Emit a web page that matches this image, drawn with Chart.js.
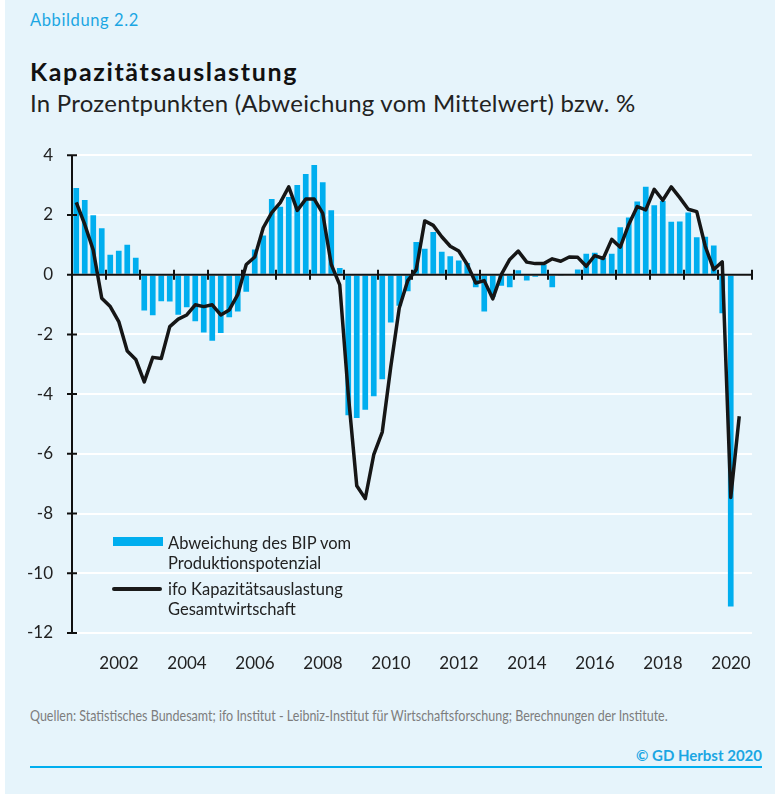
<!DOCTYPE html>
<html lang="de">
<head>
<meta charset="utf-8">
<title>Kapazitätsauslastung</title>
<script src="https://cdn.jsdelivr.net/npm/chart.js@4.4.1/dist/chart.umd.min.js"></script>
<style>
  html, body { margin: 0; padding: 0; background: #ffffff; }
  body { width: 775px; height: 794px; position: relative; overflow: hidden; font-family: "Lato", "DejaVu Sans", sans-serif; }
  #panel { position: absolute; left: 5px; top: 0; width: 770px; height: 794px; background: #e6f4fb; }
  .txt { position: absolute; white-space: nowrap; }
  #fig { left: 30px; top: 10px; font-size: 16.5px; color: #1ba6e3; }
  #title { left: 30px; top: 56px; font-size: 25px; font-weight: 700; color: #111; }
  #subtitle { left: 30px; top: 88px; font-size: 24px; color: #222; }
  #chartBox { position: absolute; left: 0; top: 126px; width: 775px; height: 554px; }
  .legText { font-size: 16.5px; color: #222; line-height: 20px; }
  #legBar { position: absolute; left: 113px; top: 537px; width: 50px; height: 9px; background: #00aeef; }
  #legLine { position: absolute; left: 112px; top: 587px; width: 50px; height: 4px; border-radius: 2px; background: #1a1a1a; }
  #leg1 { left: 168px; top: 533px; }
  #leg2 { left: 168px; top: 579px; }
  #source { left: 30px; top: 706px; font-size: 15px; color: #7d7d7d; transform-origin: left top; }
  #copy { right: 13px; top: 746px; font-size: 15px; font-weight: 700; color: #1ba6e3; }
  #rule { position: absolute; left: 30px; top: 766px; width: 732px; height: 2px; background: #00aeef; }
</style>
</head>
<body>
<div id="panel"></div>
<div class="txt" id="fig">Abbildung 2.2</div>
<div class="txt" id="title">Kapazitätsauslastung</div>
<div class="txt" id="subtitle">In Prozentpunkten (Abweichung vom Mittelwert) bzw. %</div>
<div id="chartBox"><canvas id="chart" width="775" height="554"></canvas></div>
<div id="legBar"></div>
<div id="legLine"></div>
<div class="txt legText" id="leg1">Abweichung des BIP vom<br>Produktionspotenzial</div>
<div class="txt legText" id="leg2">ifo Kapazitätsauslastung<br>Gesamtwirtschaft</div>
<div class="txt" id="source">Quellen: Statistisches Bundesamt; ifo Institut - Leibniz-Institut für Wirtschaftsforschung; Berechnungen der Institute.</div>
<div class="txt" id="copy">© GD Herbst 2020</div>
<div id="rule"></div>
<script>
// Quartale 2001Q1 bis 2020Q4
const firstYear = 2001;
const lastYear = 2020;
const quarterLabels = [];
for (let y = firstYear; y <= lastYear; y++) {
    for (let q = 1; q <= 4; q++) quarterLabels.push(y + 'Q' + q);
}

// Beschriftete Jahre auf der x-Achse
const yearLabels = [2002, 2004, 2006, 2008, 2010, 2012, 2014, 2016, 2018, 2020];
const yTicks = [-12, -10, -8, -6, -4, -2, 0, 2, 4];

// Abweichung des BIP vom Produktionspotenzial (Balken)
const bipValues = [
    2.90, 2.50, 1.99, 1.55,
    0.67, 0.80, 1.00, 0.57,
    -1.20, -1.36, -0.89, -0.90,
    -1.34, -1.09, -1.56, -1.94,
    -2.21, -1.95, -1.43, -1.23,
    -0.57, 0.84, 1.31, 2.53,
    2.27, 2.60, 3.00, 3.37,
    3.67, 3.09, 2.16, 0.22,
    -4.71, -4.80, -4.52, -4.07,
    -3.50, -1.60, -1.04, -0.56,
    1.09, 0.87, 1.43, 0.77,
    0.62, 0.47, 0.39, -0.42,
    -1.23, -0.75, -0.37, -0.42,
    0.15, -0.20, -0.07, 0.34,
    -0.42, -0.03, 0.03, 0.17,
    0.70, 0.73, 0.56, 0.70,
    1.59, 1.91, 2.45, 2.94,
    2.32, 2.47, 1.77, 1.78,
    2.08, 1.25, 1.27, 0.98,
    -1.29, -11.11, null, null
];

// ifo Kapazitätsauslastung Gesamtwirtschaft (Linie)
const ifoValues = [
    2.42, 1.68, 0.82, -0.79,
    -1.07, -1.57, -2.56, -2.84,
    -3.59, -2.77, -2.81, -1.74,
    -1.49, -1.35, -1.01, -1.07,
    -1.01, -1.35, -1.18, -0.67,
    0.34, 0.59, 1.57, 2.08,
    2.41, 2.94, 2.15, 2.53,
    2.53, 2.05, 0.34, -0.34,
    -4.00, -7.07, -7.50, -6.03,
    -5.27, -3.09, -1.12, -0.20,
    0.17, 1.80, 1.65, 1.27,
    0.95, 0.79, 0.34, -0.28,
    -0.20, -0.81, 0.00, 0.51,
    0.79, 0.42, 0.37, 0.37,
    0.53, 0.45, 0.59, 0.58,
    0.28, 0.64, 0.54, 1.18,
    0.92, 1.68, 2.28, 2.17,
    2.86, 2.49, 2.94, 2.58,
    2.19, 2.11, 0.95, 0.17,
    0.43, -7.46, -4.74, null
];

// Textbreiten an das Original anpassen (Original nutzt eine breitere Schrift)
function fitWidth(id, target) {
    const el = document.getElementById(id);
    const n = el.textContent.length;
    const extra = (target - el.scrollWidth) / n;
    el.style.letterSpacing = extra.toFixed(2) + 'px';
}
fitWidth('title', 268);
fitWidth('subtitle', 605);
fitWidth('fig', 109);

// Quellenzeile schmal stauchen (Schrift ist im Original condensed)
const src = document.getElementById('source');
src.style.transform = 'scaleX(' + (638 / src.scrollWidth) + ')';

// Achsenlinien mit Teilstrichen: zwischen Balken und Linie zeichnen
const axisPlugin = {
    id: 'axisLines',
    afterDatasetDraw(chart, args) {
        if (args.index !== 1) return;
        const ctx = chart.ctx;
        const area = chart.chartArea;
        const y = chart.scales.y;
        const xYear = chart.scales.xYear;
        const y0 = y.getPixelForValue(0);
        ctx.save();
        ctx.strokeStyle = '#111111';
        ctx.lineWidth = 2;
        ctx.beginPath();
        ctx.moveTo(area.left, y0);
        ctx.lineTo(area.right, y0);
        for (let yr = firstYear; yr <= lastYear + 1; yr++) {
            const px = xYear.getPixelForValue(yr);
            ctx.moveTo(px, y0 - 5);
            ctx.lineTo(px, y0 + 5);
        }
        ctx.moveTo(area.left, y.getPixelForValue(4));
        ctx.lineTo(area.left, y.getPixelForValue(-12));
        yTicks.forEach(function(v) {
            const py = y.getPixelForValue(v);
            ctx.moveTo(area.left - 5, py);
            ctx.lineTo(area.left + 5, py);
        });
        ctx.stroke();
        ctx.restore();
    }
};

new Chart(document.getElementById('chart').getContext('2d'), {
    data: {
        labels: quarterLabels,
        datasets: [{
            type: 'line',
            label: 'ifo Kapazitätsauslastung Gesamtwirtschaft',
            data: ifoValues,
            borderColor: '#161616',
            borderWidth: 3.5,
            pointRadius: 0,
            tension: 0,
            borderJoinStyle: 'round',
            borderCapStyle: 'butt',
            order: 0
        }, {
            type: 'bar',
            label: 'Abweichung des BIP vom Produktionspotenzial',
            data: bipValues,
            backgroundColor: '#00aeef',
            barPercentage: 0.67,
            categoryPercentage: 1,
            order: 1
        }]
    },
    options: {
        responsive: false,
        animation: false,
        layout: { padding: { top: 0, right: 23, left: 0, bottom: 0 } },
        plugins: {
            legend: { display: false },
            tooltip: { enabled: false }
        },
        scales: {
            x: { type: 'category', display: false, offset: true },
            xYear: {
                type: 'linear',
                position: 'bottom',
                min: firstYear,
                max: lastYear + 1,
                grid: { display: false },
                border: { display: false },
                afterBuildTicks: function(scale) {
                    scale.ticks = yearLabels.map(function(v) { return { value: v + 0.5 }; });
                },
                afterFit: function(scale) { scale.height = 47; },
                ticks: {
                    padding: 12,
                    labelOffset: -4,
                    color: '#222222',
                    font: { family: 'Lato', size: 17 },
                    callback: function(v) { return String(Math.floor(v)); }
                }
            },
            y: {
                min: -12,
                max: 4,
                afterBuildTicks: function(scale) {
                    scale.ticks = yTicks.map(function(v) { return { value: v }; });
                },
                afterFit: function(scale) { scale.width = 72; },
                grid: { color: '#ffffff', lineWidth: 2, drawTicks: false },
                border: { display: false },
                ticks: {
                    padding: 19,
                    color: '#222222',
                    font: { family: 'Lato', size: 17 }
                }
            }
        }
    },
    plugins: [axisPlugin]
});
</script>
</body>
</html>
